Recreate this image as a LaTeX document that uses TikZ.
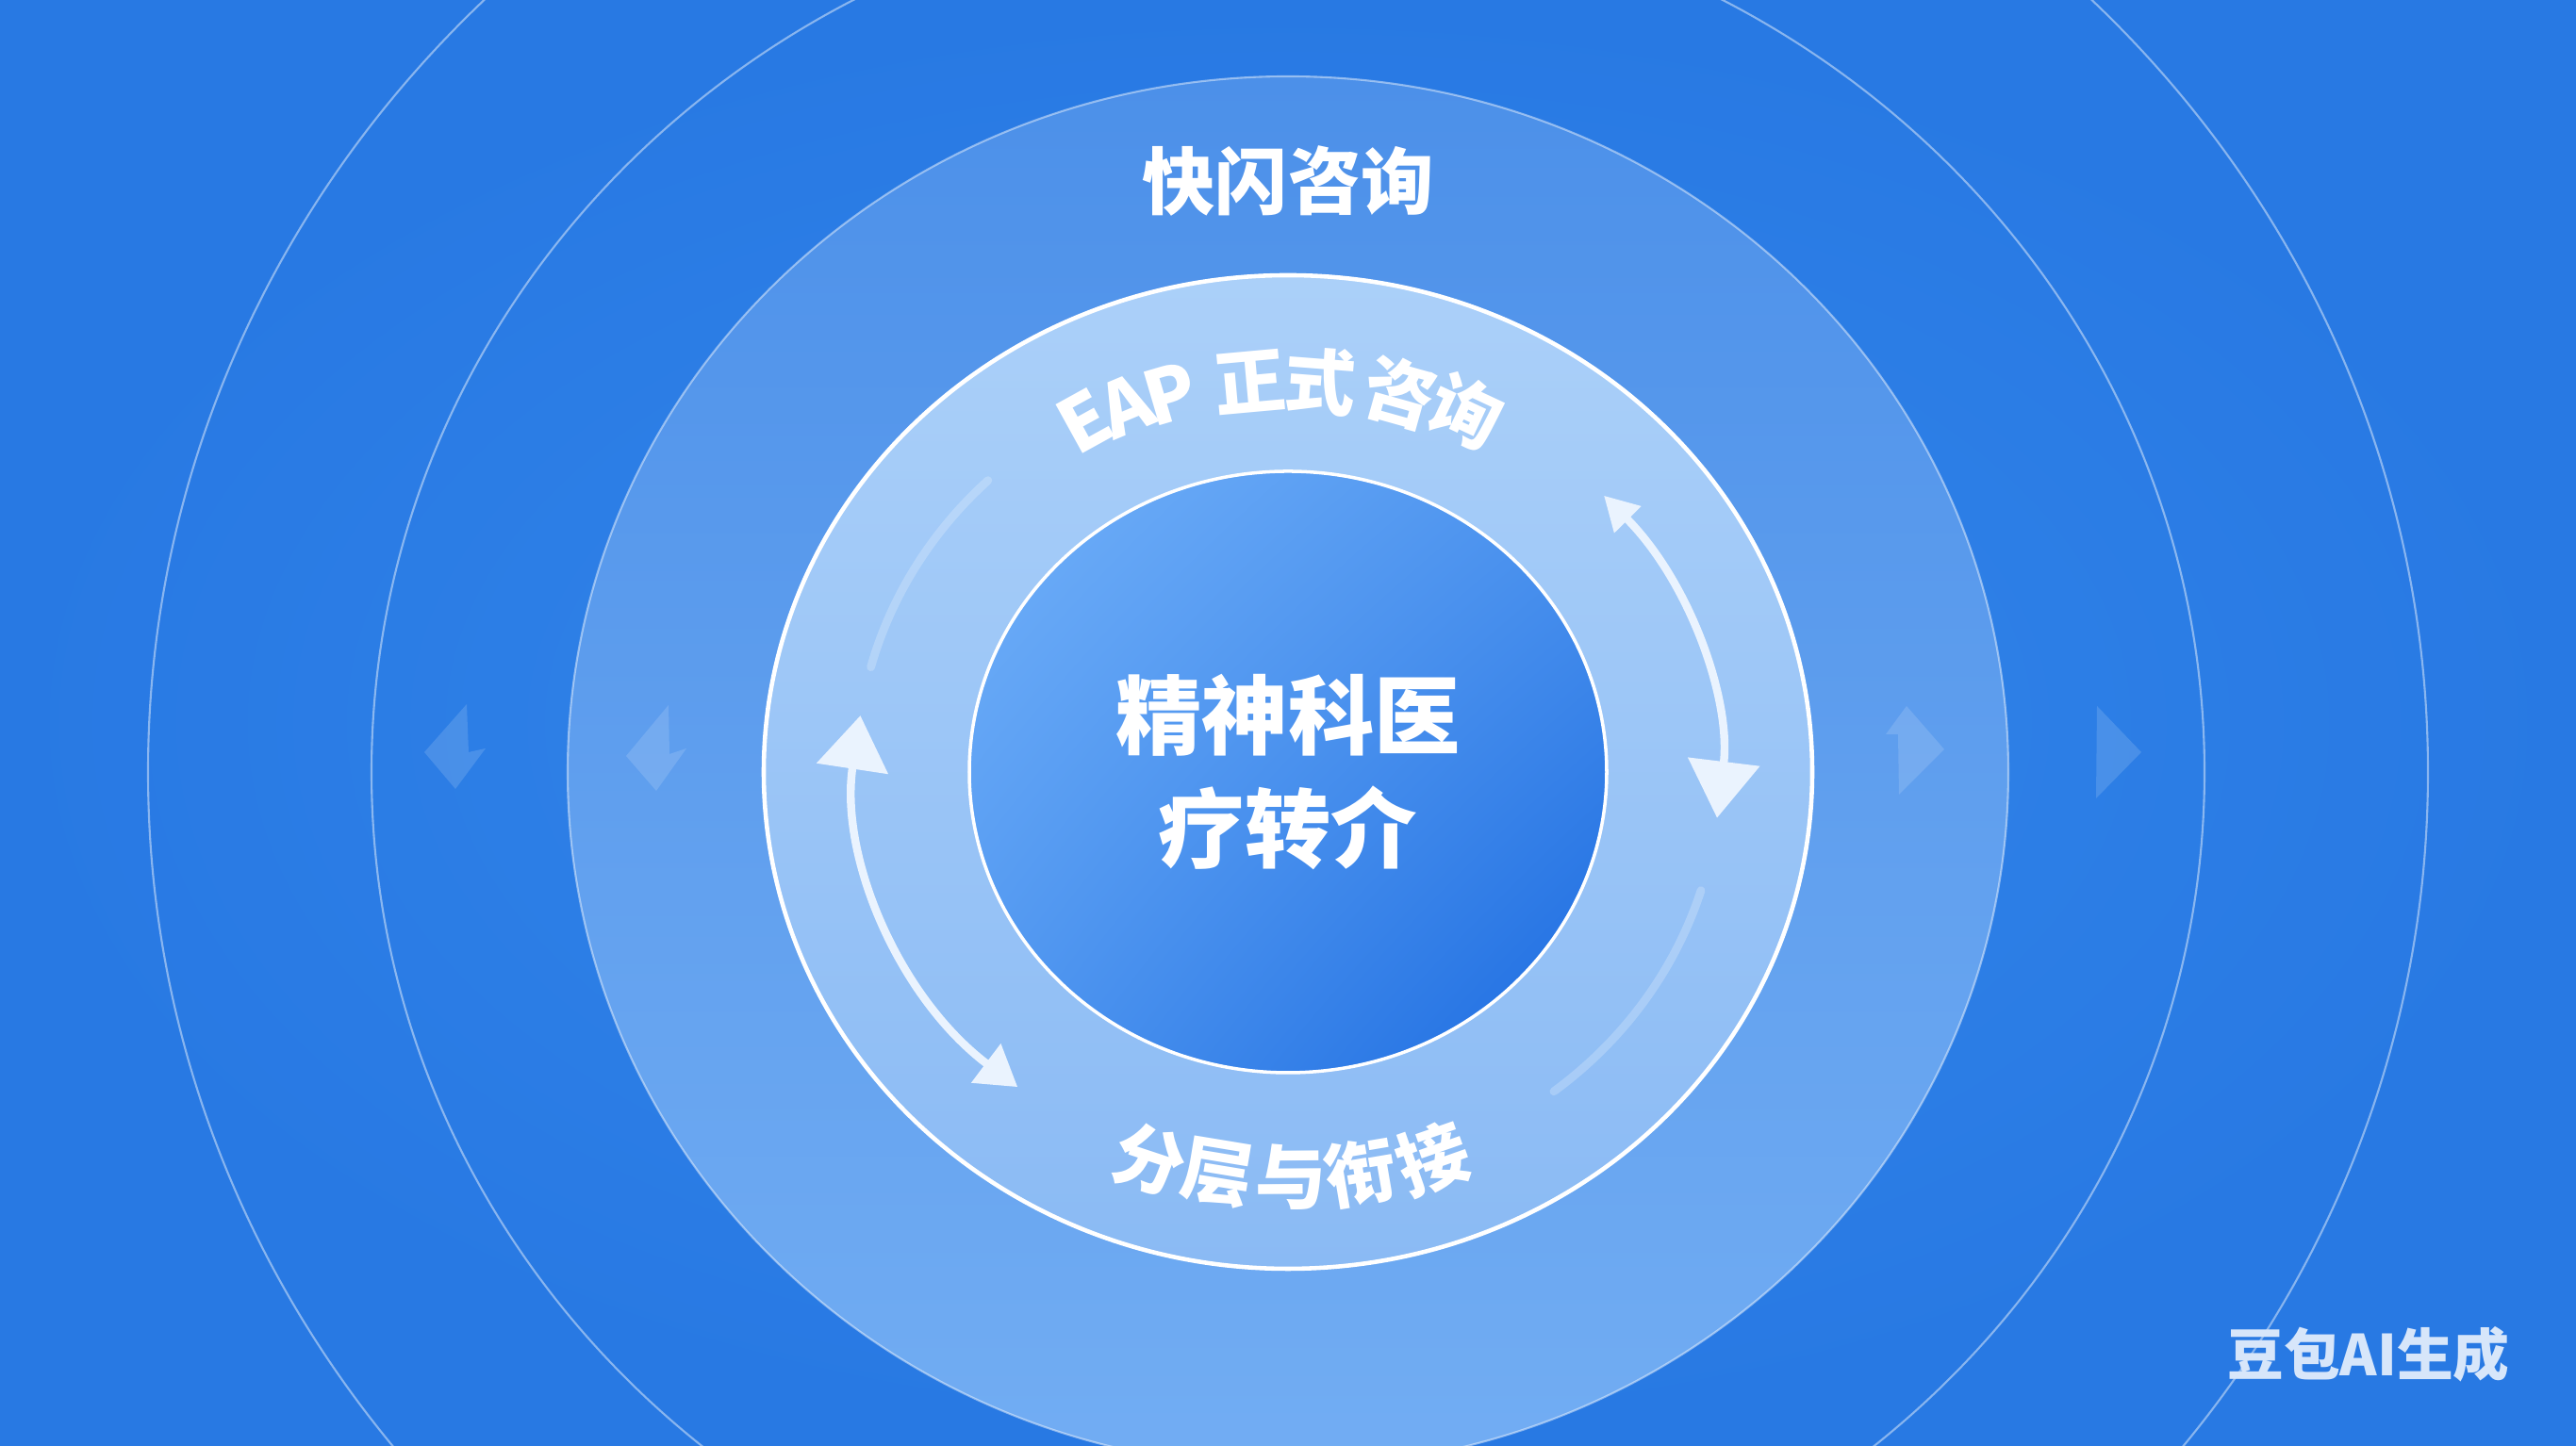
\documentclass[tikz,border=0pt]{standalone}
\usepackage{fontspec}
\newfontfamily\cjk{Noto Sans CJK SC}
\usetikzlibrary{arrows.meta,shadings}
\definecolor{bgblue}{HTML}{2879E3}
\definecolor{bglight}{HTML}{3386EA}
\definecolor{disctop}{HTML}{4C90E9}
\definecolor{discbot}{HTML}{72ADF3}
\definecolor{midtop}{HTML}{ABD0F9}
\definecolor{midbot}{HTML}{8ABAF4}
\definecolor{coreul}{HTML}{72B1F9}
\definecolor{coreur}{HTML}{4B92EE}
\definecolor{corell}{HTML}{4F96F0}
\definecolor{corelr}{HTML}{1A6AE0}
\definecolor{flowc}{HTML}{EAF3FE}
\definecolor{wmtext}{HTML}{D7E6FA}
\begin{document}
\begin{tikzpicture}[
    ringline/.style={draw=white, draw opacity=0.45, line width=0.6pt},
    ghost/.style={fill=white, fill opacity=0.14},
    flow/.style={draw=flowc, line width=2.4pt},
    glint/.style={white, opacity=0.22, line width=2.5pt, line cap=round},
    arctext/.style={text=white, inner sep=0pt, font=\cjk\bfseries\fontsize{21.5pt}{26pt}\selectfont},
    quicktext/.style={text=white, inner sep=0pt, font=\cjk\bfseries\fontsize{22pt}{26pt}\selectfont},
    coretext/.style={text=white, inner sep=0pt, align=center, font=\cjk\bfseries\fontsize{26pt}{34pt}\selectfont}
  ]
  \useasboundingbox (0,0) rectangle (27.32,15.34);
  \clip (0,0) rectangle (27.32,15.34);
  \shade[inner color=bglight, outer color=bgblue] (0,0) rectangle (27.32,15.34);
  \coordinate (c) at (13.66,7.15);
  \coordinate (topc) at (13.66,5.58);
  \coordinate (botc) at (13.66,8.86);
  % rings, from the outside in
  \draw[ringline] (c) ellipse[x radius=12.09, y radius=11.55];
  \draw[ringline] (c) ellipse[x radius=9.72, y radius=9.30];
  \draw[ringline, top color=disctop, bottom color=discbot] (c) ellipse[x radius=7.64, y radius=7.38];
  \draw[draw=white, line width=1.3pt, top color=midtop, bottom color=midbot] (c) ellipse[x radius=5.56, y radius=5.27];
  \draw[draw=white, line width=1pt, upper left=coreul, upper right=coreur, lower left=corell, lower right=corelr] (c) ellipse[x radius=3.38, y radius=3.19];
  % faint side arrows
  \fill[ghost] (4.50,7.36) -- (4.95,7.87) -- (4.97,7.36) -- (5.15,7.40) -- (4.83,6.97) -- cycle;
  \fill[ghost] (6.64,7.32) -- (7.09,7.86) -- (7.10,7.34) -- (7.28,7.40) -- (6.96,6.95) -- cycle;
  \fill[ghost] (20.22,7.85) -- (20.62,7.39) -- (20.14,6.91) -- (20.13,7.55) -- (20.00,7.55) -- cycle;
  \fill[ghost] (22.24,7.85) -- (22.71,7.36) -- (22.23,6.87) -- cycle;
  % glints and two-way arrows in the ring
  \coordinate (g1) at ([shift={(165:4.58 and 4.30)}]c);
  \coordinate (g2) at ([shift={(-52:4.58 and 4.30)}]c);
  \draw[glint] (g1) arc[start angle=165, end angle=134, x radius=4.58, y radius=4.30];
  \draw[glint] (g2) arc[start angle=-52, end angle=-17, x radius=4.58, y radius=4.30];
  \coordinate (la) at ([shift={(172:4.58 and 4.30)}]c);
  \coordinate (ra) at ([shift={(43:4.58 and 4.30)}]c);
  \draw[flow, {Triangle[width=0.75cm,length=0.57cm]}-{Triangle[width=0.5cm,length=0.42cm]}]
    (la) arc[start angle=172, end angle=231, x radius=4.62, y radius=4.30];
  \draw[flow, {Triangle[width=0.38cm,length=0.36cm]}-{Triangle[width=0.75cm,length=0.6cm]}]
    (ra) arc[start angle=43, end angle=-6.5, x radius=4.58, y radius=4.30];
  % texts
  \node[quicktext] (quick) at (13.66,13.42) {快闪咨询};
  \node[coretext] (core) at (c) {精神科医\\疗转介};
  \foreach \ch/\ang/\sz [count=\i] in {E/112.2/1.05,A/107.5/1.05,P/102.6/1.05,正/94.0/1,式/86.6/1,咨/78.0/1,询/70.7/1}
    \node[arctext, scale=\sz, rotate=1.3*(\ang-90)] (eap\i) at ([shift={(\ang:5.72)}]topc) {\ch};
  \foreach \ch/\ang [count=\i] in {分/255.9,层/262.8,与/270.3,衔/277.4,接/284.8}
    \node[arctext, rotate=1.3*(\ang-270)] (tier\i) at ([shift={(\ang:6.01)}]botc) {\ch};
  \node[text=wmtext, inner sep=0pt, font=\cjk\bfseries\fontsize{17pt}{20pt}\selectfont] (wm) at (25.12,0.97) {豆包AI生成};
\end{tikzpicture}
\end{document}
